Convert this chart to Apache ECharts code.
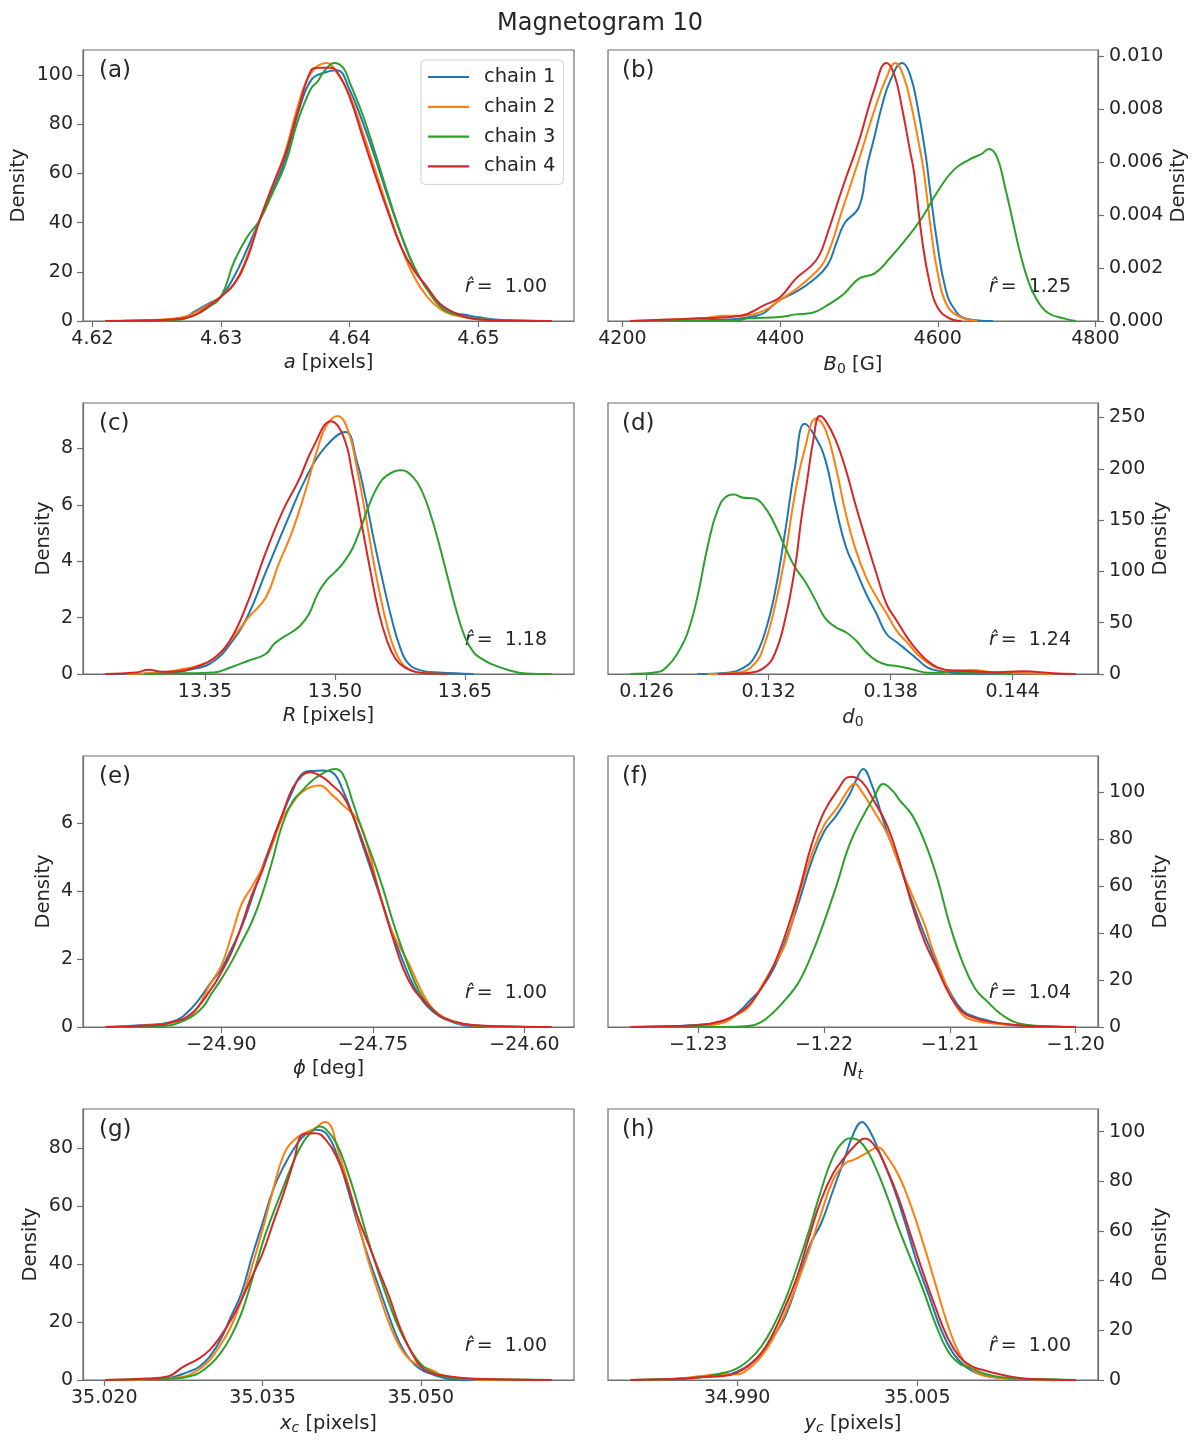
<!DOCTYPE html>
<html>
<head>
<meta charset="utf-8">
<script src="https://cdn.jsdelivr.net/npm/echarts@6/dist/echarts.min.js"></script>
<style>
html, body { margin: 0; padding: 0; background: #fff; }
#chart { width: 1200px; height: 1445px; }
</style>
</head>
<body>
<div id="chart"></div>
<script>
var FONT = "DejaVu Sans";
var TEXT = "#262626";
var FRAME = "#6e6e6e";
var colors = ["#1f77b4", "#ff7f0e", "#2ca02c", "#d62728"];
var chainNames = ["chain 1", "chain 2", "chain 3", "chain 4"];

// (a) a [pixels]
var a1 = [[4.621,0],[4.625,0.3],[4.627,1.2],[4.628,4],[4.629,7],[4.630,10],[4.631,18],[4.632,29],[4.633,41],[4.634,53],[4.635,66],[4.636,85],[4.637,98],[4.638,101],[4.639,102],[4.640,94],[4.641,81],[4.642,66],[4.643,50],[4.644,35],[4.645,22],[4.646,13],[4.647,7],[4.648,3.5],[4.649,2.5],[4.650,1.5],[4.652,0.4],[4.6557,0]];
var a2 = [[4.621,0],[4.625,0.5],[4.627,1.5],[4.628,3.5],[4.629,6.5],[4.630,10],[4.631,15],[4.632,26],[4.633,41],[4.634,55],[4.635,69],[4.636,88],[4.637,101],[4.6382,105],[4.639,101],[4.640,92],[4.641,77],[4.642,61],[4.643,45],[4.644,30],[4.645,18],[4.646,10],[4.647,5],[4.648,2.5],[4.650,0.8],[4.652,0.2],[4.654,0]];
var a3 = [[4.621,0],[4.626,0.2],[4.628,2.5],[4.629,5.5],[4.630,10],[4.631,24],[4.632,34],[4.633,41],[4.634,52],[4.635,64],[4.636,82],[4.637,94.7],[4.6375,97.4],[4.638,101.5],[4.6388,105],[4.6395,103],[4.640,97],[4.641,84],[4.642,68],[4.643,51],[4.644,35],[4.645,22],[4.646,13],[4.647,6],[4.648,3],[4.650,0.8],[4.652,0.2],[4.6557,0]];
var a4 = [[4.621,0],[4.625,0.3],[4.627,1],[4.628,2.5],[4.629,6],[4.630,10],[4.631,15],[4.632,25],[4.633,41],[4.634,55],[4.635,68],[4.636,86],[4.637,102],[4.6375,103],[4.6385,103],[4.639,101.5],[4.640,91],[4.641,75],[4.642,59],[4.643,44],[4.644,30],[4.645,20.6],[4.646,13.9],[4.647,7],[4.648,3.7],[4.649,1.6],[4.650,0.6],[4.652,0.1],[4.6557,0]];
var aXTicks = [4.62, 4.63, 4.64, 4.65];
var aYTicks = [0, 20, 40, 60, 80, 100];

// (b) B0 [G]
var b1 = [[4210,0],[4300,0.00003],[4370,0.0002],[4400,0.0008],[4420,0.0011],[4440,0.0015],[4460,0.0021],[4472,0.0030],[4482,0.0037],[4500,0.0043],[4510,0.0058],[4520,0.0070],[4529,0.0081],[4540,0.0091],[4555,0.00975],[4565,0.0093],[4575,0.0080],[4585,0.0062],[4590,0.0050],[4600,0.0028],[4610,0.0012],[4620,0.0005],[4635,0.0001],[4670,0]];
var b2 = [[4210,0],[4300,0.0001],[4330,0.0002],[4350,0.0002],[4380,0.0004],[4400,0.0008],[4420,0.0012],[4440,0.0017],[4457,0.0023],[4480,0.0043],[4500,0.0061],[4520,0.0080],[4535,0.0092],[4546,0.00975],[4556,0.0093],[4566,0.0082],[4576,0.0067],[4582,0.0057],[4592,0.0033],[4600,0.0018],[4610,0.0007],[4625,0.0002],[4650,0]];
var b3 = [[4210,0],[4340,0],[4360,0.0001],[4400,0.00015],[4420,0.00025],[4440,0.0003],[4460,0.0006],[4480,0.0010],[4500,0.0016],[4520,0.0018],[4540,0.0024],[4560,0.0031],[4580,0.0039],[4600,0.0049],[4620,0.0057],[4640,0.0061],[4655,0.0063],[4665,0.0065],[4675,0.0062],[4685,0.0051],[4695,0.0038],[4705,0.0025],[4715,0.0015],[4725,0.00084],[4740,0.0003],[4760,0.0001],[4775,0]];
var b4 = [[4210,0],[4250,0.00005],[4300,0.0001],[4350,0.0002],[4380,0.0006],[4400,0.0009],[4420,0.0016],[4440,0.0021],[4450,0.0025],[4460,0.0033],[4480,0.0051],[4500,0.0068],[4520,0.0088],[4535,0.00975],[4545,0.0093],[4555,0.0080],[4565,0.0064],[4570,0.0056],[4580,0.0031],[4590,0.0014],[4600,0.0005],[4615,0.0001],[4630,0]];
var bXTicks = [4200, 4400, 4600, 4800];
var bYTicks = [0, 0.002, 0.004, 0.006, 0.008, 0.010];

// (c) R [pixels]
var c1 = [[13.235,0],[13.30,0.03],[13.34,0.2],[13.36,0.45],[13.38,1.1],[13.40,2.1],[13.42,3.6],[13.445,5.45],[13.467,6.98],[13.489,8.05],[13.512,8.58],[13.525,7.57],[13.535,6.27],[13.545,4.73],[13.555,3.31],[13.565,2.0],[13.575,0.95],[13.585,0.36],[13.60,0.12],[13.62,0.05],[13.66,0]];
var c2 = [[13.26,0],[13.30,0.05],[13.32,0.15],[13.34,0.28],[13.36,0.55],[13.38,1.2],[13.40,2.0],[13.42,2.7],[13.435,3.9],[13.45,5.0],[13.465,6.4],[13.48,8.0],[13.49,8.8],[13.5027,9.15],[13.515,8.64],[13.525,7.34],[13.535,5.68],[13.545,3.9],[13.555,2.37],[13.565,1.18],[13.575,0.47],[13.585,0.17],[13.60,0.04],[13.63,0]];
var c3 = [[13.28,0],[13.34,0.03],[13.36,0.05],[13.38,0.24],[13.40,0.47],[13.42,0.71],[13.43,1.07],[13.44,1.3],[13.45,1.48],[13.46,1.72],[13.47,2.13],[13.48,2.84],[13.49,3.31],[13.50,3.61],[13.51,3.96],[13.52,4.44],[13.53,5.2],[13.54,6.04],[13.55,6.69],[13.56,7.04],[13.5766,7.22],[13.59,6.98],[13.60,6.5],[13.61,5.68],[13.62,4.62],[13.63,3.43],[13.64,2.25],[13.65,1.3],[13.66,0.77],[13.67,0.53],[13.68,0.36],[13.70,0.14],[13.72,0.02],[13.75,0]];
var c4 = [[13.235,0],[13.27,0.05],[13.285,0.15],[13.30,0.08],[13.32,0.1],[13.34,0.25],[13.36,0.55],[13.38,1.25],[13.40,2.6],[13.42,4.3],[13.44,5.8],[13.458,6.86],[13.475,8.05],[13.4956,8.96],[13.51,8.4],[13.52,7.1],[13.53,5.44],[13.54,3.79],[13.55,2.25],[13.56,1.18],[13.57,0.53],[13.58,0.24],[13.60,0.04],[13.63,0]];
var cXTicks = [13.35, 13.50, 13.65];
var cYTicks = [0, 2, 4, 6, 8];

// (d) d0
var d1 = [[0.1285,0],[0.1300,1.3],[0.1308,6.5],[0.1313,16],[0.1318,39],[0.1323,78],[0.1328,137],[0.1333,202],[0.13378,244],[0.1343,231],[0.1348,208],[0.1353,163],[0.1358,124],[0.1363,101],[0.1368,78],[0.1373,59],[0.1378,39],[0.1383,31],[0.1388,23],[0.1393,14.6],[0.1398,6.5],[0.1403,3.3],[0.141,1.3],[0.142,0.7],[0.1435,0]];
var d2 = [[0.1290,0],[0.1305,1.3],[0.1313,9.8],[0.1318,29],[0.1323,65],[0.1328,114],[0.1333,176],[0.1338,221],[0.13434,249],[0.1348,238],[0.1353,202],[0.1358,156],[0.1363,120],[0.1368,94],[0.1373,75],[0.1378,59],[0.1383,42],[0.1388,31],[0.1393,19.5],[0.1398,11.4],[0.1403,5.9],[0.141,3.3],[0.142,3.9],[0.143,2],[0.1445,1],[0.146,0]];
var d3 = [[0.1252,0],[0.1265,1.6],[0.1270,7],[0.1275,19.5],[0.1280,39],[0.1285,75],[0.1290,124],[0.1295,160],[0.1300,174],[0.1303,175],[0.1307,172],[0.1313,171],[0.1318,163],[0.1323,146],[0.1328,124],[0.1333,104],[0.1338,90],[0.1343,72],[0.1348,54],[0.1353,45.6],[0.1358,40.7],[0.1363,32.6],[0.1368,21],[0.1373,13],[0.1378,9.1],[0.1383,7.8],[0.1388,5.9],[0.1393,3.3],[0.1398,1.3],[0.1405,1.3],[0.141,2.6],[0.142,1.5],[0.143,0.5],[0.144,0]];
var d4 = [[0.1295,0],[0.131,1],[0.1318,6.5],[0.1323,19.5],[0.1328,52],[0.1333,104],[0.1336,150],[0.1339,189],[0.1342,228],[0.13451,251.6],[0.1348,247],[0.1353,228],[0.1358,199],[0.1363,163],[0.1368,130],[0.1373,98],[0.1378,68],[0.1383,52],[0.1388,36],[0.1393,23],[0.1398,13],[0.1403,6.5],[0.141,3.3],[0.142,2.6],[0.143,1.6],[0.1445,2.6],[0.146,0.7],[0.1471,0]];
var dXTicks = [0.126, 0.132, 0.138, 0.144];
var dYTicks = [0, 50, 100, 150, 200, 250];

// (e) phi [deg]
var e1 = [[-25.015,0],[-24.98,0.05],[-24.95,0.15],[-24.93,0.54],[-24.91,1.33],[-24.90,1.72],[-24.89,2.31],[-24.88,2.95],[-24.87,3.78],[-24.86,4.67],[-24.85,5.45],[-24.84,6.24],[-24.83,6.93],[-24.82,7.47],[-24.81,7.55],[-24.80,7.56],[-24.79,7.5],[-24.78,7.0],[-24.77,6.24],[-24.76,5.35],[-24.75,4.47],[-24.74,3.59],[-24.73,2.7],[-24.72,1.92],[-24.71,1.23],[-24.70,0.74],[-24.69,0.44],[-24.68,0.25],[-24.66,0.05],[-24.64,0]];
var e2 = [[-25.015,0],[-24.97,0.05],[-24.95,0.12],[-24.93,0.34],[-24.91,1.33],[-24.90,1.82],[-24.89,2.7],[-24.88,3.63],[-24.87,4.13],[-24.86,4.67],[-24.85,5.35],[-24.84,6.14],[-24.83,6.58],[-24.82,6.93],[-24.803,7.12],[-24.79,6.83],[-24.78,6.55],[-24.765,6.1],[-24.755,5.3],[-24.745,4.1],[-24.735,3.1],[-24.725,2.45],[-24.715,1.9],[-24.705,1.25],[-24.695,0.7],[-24.685,0.38],[-24.67,0.15],[-24.65,0.04],[-24.60,0]];
var e3 = [[-25.0,0],[-24.96,0.03],[-24.94,0.15],[-24.92,0.54],[-24.91,0.98],[-24.90,1.42],[-24.89,1.92],[-24.88,2.5],[-24.87,3.09],[-24.86,3.88],[-24.85,4.86],[-24.84,5.94],[-24.83,6.63],[-24.82,6.97],[-24.81,7.27],[-24.80,7.47],[-24.788,7.61],[-24.78,7.47],[-24.77,6.63],[-24.76,5.75],[-24.75,4.96],[-24.74,4.08],[-24.73,3.09],[-24.72,2.21],[-24.71,1.42],[-24.70,0.83],[-24.69,0.49],[-24.68,0.27],[-24.66,0.09],[-24.63,0.02],[-24.60,0]];
var e4 = [[-25.015,0],[-24.97,0.05],[-24.95,0.13],[-24.93,0.39],[-24.91,1.13],[-24.90,1.62],[-24.89,2.21],[-24.88,3.0],[-24.87,3.88],[-24.86,4.57],[-24.85,5.45],[-24.84,6.24],[-24.83,7.02],[-24.82,7.42],[-24.8128,7.51],[-24.80,7.37],[-24.79,7.12],[-24.78,6.83],[-24.77,6.24],[-24.76,5.45],[-24.75,4.57],[-24.74,3.59],[-24.73,2.6],[-24.72,1.72],[-24.71,1.13],[-24.70,0.79],[-24.69,0.49],[-24.68,0.27],[-24.66,0.09],[-24.64,0.04],[-24.573,0]];
var eXTicks = [-24.90, -24.75, -24.60];
var eYTicks = [0, 2, 4, 6];

// (f) Nt
var f1 = [[-1.2354,0],[-1.232,0.3],[-1.230,1],[-1.228,2.1],[-1.2265,7.8],[-1.226,10.7],[-1.225,16.4],[-1.224,24.9],[-1.223,37.7],[-1.222,53.3],[-1.221,70.4],[-1.220,83.2],[-1.219,90.3],[-1.218,98.9],[-1.2175,104.6],[-1.21688,110],[-1.2163,104.6],[-1.2155,91.7],[-1.215,83.2],[-1.214,69],[-1.213,53.3],[-1.212,39.1],[-1.211,26.3],[-1.210,14.9],[-1.209,7.1],[-1.208,4.3],[-1.207,2.8],[-1.206,1.4],[-1.204,0.4],[-1.2015,0]];
var f2 = [[-1.2354,0],[-1.230,0.5],[-1.228,1.8],[-1.227,5],[-1.226,8.5],[-1.225,17],[-1.224,26.3],[-1.223,36.3],[-1.222,56.2],[-1.221,73.3],[-1.220,86],[-1.219,93.2],[-1.218,101.7],[-1.2176,103.8],[-1.217,100.3],[-1.216,91.7],[-1.215,82.5],[-1.214,69],[-1.213,56.2],[-1.212,43.4],[-1.2115,34.9],[-1.211,27.7],[-1.210,14.2],[-1.209,5.3],[-1.208,2.7],[-1.206,1.3],[-1.203,0.3],[-1.200,0]];
var f3 = [[-1.2354,0],[-1.228,0],[-1.226,0.4],[-1.225,2.1],[-1.224,6.4],[-1.223,12.1],[-1.222,19.2],[-1.221,30.6],[-1.220,44.8],[-1.219,60.5],[-1.218,77.5],[-1.217,88.9],[-1.216,98.2],[-1.2153,103.6],[-1.2145,100.3],[-1.214,96.7],[-1.213,90.3],[-1.212,78.9],[-1.211,63.3],[-1.210,43.4],[-1.209,27.7],[-1.208,16.4],[-1.207,10.7],[-1.206,5.7],[-1.205,2.4],[-1.204,1],[-1.202,0.2],[-1.200,0]];
var f4 = [[-1.2354,0],[-1.232,0.4],[-1.230,0.7],[-1.228,2.8],[-1.227,5.3],[-1.226,9.2],[-1.225,16.4],[-1.224,26.3],[-1.223,40.5],[-1.222,57.6],[-1.221,77.5],[-1.220,91.7],[-1.219,100.3],[-1.2179,106.7],[-1.217,104.6],[-1.216,96],[-1.215,86],[-1.214,70.4],[-1.213,51.9],[-1.212,36.3],[-1.211,24.9],[-1.210,13.5],[-1.209,6.4],[-1.208,3.8],[-1.207,2.4],[-1.205,1],[-1.203,0.3],[-1.200,0]];
var fXTicks = [-1.23, -1.22, -1.21, -1.20];
var fYTicks = [0, 20, 40, 60, 80, 100];

// (g) xc [pixels]
var g1 = [[35.0201,0],[35.024,0.2],[35.026,0.6],[35.028,2.9],[35.029,4.6],[35.030,8.1],[35.031,13.8],[35.032,21.9],[35.033,30],[35.034,42.7],[35.035,54.2],[35.036,65.7],[35.037,73.8],[35.038,80.1],[35.039,84.7],[35.0401,86.5],[35.041,85.3],[35.042,78.4],[35.043,66.9],[35.044,54.2],[35.045,42.7],[35.046,32.3],[35.047,21.9],[35.048,12.7],[35.049,6.9],[35.050,3.7],[35.051,2.1],[35.052,0.9],[35.053,0.2],[35.055,0]];
var g2 = [[35.0201,0],[35.025,0.3],[35.027,0.9],[35.028,1.7],[35.029,3.7],[35.030,6.9],[35.031,12.1],[35.032,18.4],[35.033,27.7],[35.034,39.2],[35.035,51.9],[35.036,65.7],[35.037,77.8],[35.038,83],[35.039,85.3],[35.040,87],[35.0409,89.2],[35.0415,87.6],[35.042,81.3],[35.043,69.2],[35.044,55.3],[35.045,41.5],[35.046,30],[35.047,19.6],[35.048,11.5],[35.049,6.9],[35.050,4.8],[35.051,3.5],[35.052,1.7],[35.054,0.5],[35.056,0.1],[35.060,0]];
var g3 = [[35.0201,0],[35.024,0.3],[35.027,0.6],[35.028,1.2],[35.029,2.5],[35.030,5.2],[35.031,9.2],[35.032,15],[35.033,23.1],[35.034,34.6],[35.035,47.3],[35.036,57.6],[35.037,66.9],[35.038,76.1],[35.039,83],[35.040,87],[35.04045,87.6],[35.041,86.7],[35.042,81.8],[35.043,72.6],[35.044,61.1],[35.045,48.4],[35.046,36.9],[35.047,26.5],[35.048,17.3],[35.049,10.4],[35.050,5.5],[35.051,2.9],[35.052,1.4],[35.054,0.4],[35.058,0.2],[35.0624,0]];
var g4 = [[35.0201,0],[35.024,0.5],[35.026,1.2],[35.0275,4.6],[35.029,7.5],[35.030,10.4],[35.031,15],[35.032,20.7],[35.033,27.7],[35.034,35.7],[35.035,43.8],[35.036,54.2],[35.037,64.6],[35.038,76.1],[35.0385,83.6],[35.039,85.1],[35.040,85.3],[35.041,83],[35.042,77.2],[35.043,68],[35.044,56.5],[35.045,47.3],[35.046,38],[35.047,28.8],[35.048,18.4],[35.049,10.4],[35.050,4.6],[35.051,2.3],[35.052,1.6],[35.054,0.7],[35.057,0.3],[35.0624,0]];
var gXTicks = [35.020, 35.035, 35.050];
var gYTicks = [0, 20, 40, 60, 80];

// (h) yc [pixels]
var h1 = [[34.9811,0],[34.985,0.5],[34.987,1.3],[34.989,2],[34.990,3.4],[34.991,6],[34.992,10.7],[34.993,17.4],[34.994,25.5],[34.995,38.9],[34.996,53.7],[34.997,63.1],[34.998,76.5],[34.999,89.9],[34.9997,99.3],[35.0004,103.9],[35.001,100.7],[35.002,89.9],[35.003,77.9],[35.004,63.1],[35.005,47],[35.006,33.6],[35.007,20.1],[35.008,10.7],[35.009,5.4],[35.010,2.7],[35.011,1.3],[35.013,0.5],[35.016,0.1],[35.0182,0]];
var h2 = [[34.9811,0],[34.985,0.5],[34.987,1.6],[34.9885,2.3],[34.990,2.3],[34.991,4.7],[34.992,9.4],[34.993,16.8],[34.994,26.8],[34.995,38.9],[34.996,52.3],[34.997,67.1],[34.998,80.5],[34.999,87.2],[34.9997,88.6],[35.0005,90.6],[35.0012,92.6],[35.0017,93.7],[35.0025,89.9],[35.0035,81.9],[35.0045,69.8],[35.0055,55],[35.0065,38.9],[35.0075,22.8],[35.0085,10.7],[35.0095,4.3],[35.0105,1.9],[35.012,0.8],[35.015,0.2],[35.0182,0]];
var h3 = [[34.9811,0],[34.985,0.4],[34.987,1.1],[34.989,3],[34.990,4.7],[34.991,8.1],[34.992,13.4],[34.993,21.5],[34.994,32.2],[34.995,45.6],[34.996,60.4],[34.997,76.5],[34.998,89.9],[34.999,96.6],[34.9995,97.3],[35.0005,94.6],[35.0015,85.9],[35.0025,73.8],[35.0035,60.4],[35.0045,48.3],[35.0055,36.2],[35.0065,22.8],[35.0075,12.1],[35.0085,6.7],[35.0095,4.7],[35.0105,2.7],[35.012,1.1],[35.015,0.4],[35.0182,0]];
var h4 = [[34.9811,0],[34.985,0.5],[34.987,1.1],[34.989,1.7],[34.990,3],[34.991,6],[34.992,10.7],[34.993,18.8],[34.994,29.5],[34.995,41.6],[34.996,57.7],[34.997,72.5],[34.998,83.2],[34.999,89.9],[35.000,95.3],[35.0006,97.2],[35.0015,94],[35.0025,84.6],[35.0035,72.5],[35.0045,57.7],[35.0055,43],[35.0065,29.5],[35.0075,17.4],[35.0085,9.4],[35.0095,5.6],[35.0105,4],[35.0115,2.7],[35.0125,1.6],[35.014,0.5],[35.0182,0]];
var hXTicks = [34.990, 35.005];
var hYTicks = [0, 20, 40, 60, 80, 100];

var panels = [
    { tag: "(a)", chains: [a1, a2, a3, a4], xTicks: aXTicks, yTicks: aYTicks, xDec: 2, yDec: 0, xName: "{i|a} [pixels]", rhat: "1.00", yGap: 54 },
    { tag: "(b)", chains: [b1, b2, b3, b4], xTicks: bXTicks, yTicks: bYTicks, xDec: 0, yDec: 3, xName: "{i|B}{s|0} [G]", rhat: "1.25", yGap: 71 },
    { tag: "(c)", chains: [c1, c2, c3, c4], xTicks: cXTicks, yTicks: cYTicks, xDec: 2, yDec: 0, xName: "{i|R} [pixels]", rhat: "1.18", yGap: 29 },
    { tag: "(d)", chains: [d1, d2, d3, d4], xTicks: dXTicks, yTicks: dYTicks, xDec: 3, yDec: 0, xName: "{i|d}{s|0}", rhat: "1.24", yGap: 53 },
    { tag: "(e)", chains: [e1, e2, e3, e4], xTicks: eXTicks, yTicks: eYTicks, xDec: 2, yDec: 0, xName: "{i|\u03d5} [deg]", rhat: "1.00", yGap: 29 },
    { tag: "(f)", chains: [f1, f2, f3, f4], xTicks: fXTicks, yTicks: fYTicks, xDec: 2, yDec: 0, xName: "{i|N}{si|t}", rhat: "1.04", yGap: 53 },
    { tag: "(g)", chains: [g1, g2, g3, g4], xTicks: gXTicks, yTicks: gYTicks, xDec: 3, yDec: 0, xName: "{i|x}{si|c} [pixels]", rhat: "1.00", yGap: 42 },
    { tag: "(h)", chains: [h1, h2, h3, h4], xTicks: hXTicks, yTicks: hYTicks, xDec: 3, yDec: 0, xName: "{i|y}{si|c} [pixels]", rhat: "1.00", yGap: 53 }
];

var gridLeft = [83, 608];
var gridWidth = [491, 490];
var gridTop = [50, 403, 756, 1109];
var gridHeight = 271;

var TICK_SIZE = 19;
var LABEL_SIZE = 19.5;

function fmt(v, dec) {
    return v.toFixed(dec).replace("-", "\u2212");
}

// min / max of one coordinate over all chains of a panel
function extent(chains, k) {
    var lo = Infinity, hi = -Infinity;
    chains.forEach(function(c) {
        c.forEach(function(p) {
            lo = Math.min(lo, p[k]);
            hi = Math.max(hi, p[k]);
        });
    });
    return [lo, hi];
}

var nameRich = {
    i: { fontStyle: "italic", fontSize: LABEL_SIZE, fontFamily: FONT, color: TEXT },
    s: { fontSize: 14, fontFamily: FONT, color: TEXT, padding: [9, 0, 0, 0] },
    si: { fontSize: 14, fontStyle: "italic", fontFamily: FONT, color: TEXT, padding: [9, 0, 0, 0] }
};

var grids = [], xAxes = [], yAxes = [], series = [], graphics = [];

panels.forEach(function(p, i) {
    var col = i % 2, row = Math.floor(i / 2);
    var gl = gridLeft[col], gw = gridWidth[col], gt = gridTop[row];
    var right = col === 1;

    // matplotlib style limits: 5% margin in x, 0 .. 1.05*max in y
    var xr = extent(p.chains, 0);
    var pad = 0.05 * (xr[1] - xr[0]);
    var yMax = extent(p.chains, 1)[1] * 1.05;

    grids.push({
        left: gl, top: gt, width: gw, height: gridHeight,
        show: true, borderColor: FRAME, borderWidth: 1.2, backgroundColor: "transparent"
    });

    xAxes.push({
        type: "value", gridIndex: i, min: xr[0] - pad, max: xr[1] + pad,
        axisLine: { show: true, lineStyle: { color: FRAME, width: 1.2 } },
        axisTick: { show: true, length: 6, customValues: p.xTicks, lineStyle: { color: FRAME, width: 1.2 } },
        axisLabel: {
            customValues: p.xTicks, margin: 9, fontSize: TICK_SIZE, color: TEXT, fontFamily: FONT,
            formatter: function(v) { return fmt(v, p.xDec); }
        },
        splitLine: { show: false },
        name: p.xName, nameLocation: "middle", nameGap: 32,
        nameTextStyle: { fontSize: LABEL_SIZE, color: TEXT, fontFamily: FONT, rich: nameRich }
    });

    yAxes.push({
        type: "value", gridIndex: i, min: 0, max: yMax, position: right ? "right" : "left",
        axisLine: { show: true, lineStyle: { color: FRAME, width: 1.2 } },
        axisTick: { show: true, length: 6, customValues: p.yTicks, lineStyle: { color: FRAME, width: 1.2 } },
        axisLabel: {
            customValues: p.yTicks, margin: right ? 11 : 10, fontSize: TICK_SIZE, color: TEXT, fontFamily: FONT,
            formatter: function(v) { return fmt(v, p.yDec); }
        },
        splitLine: { show: false },
        name: "Density", nameLocation: "middle", nameGap: p.yGap, nameRotate: 90,
        nameTextStyle: { fontSize: LABEL_SIZE, color: TEXT, fontFamily: FONT }
    });

    p.chains.forEach(function(chain, j) {
        series.push({
            type: "line", name: chainNames[j], xAxisIndex: i, yAxisIndex: i,
            data: chain, smooth: 0.45,
            showSymbol: false, symbol: "none",
            lineStyle: { width: 2, color: colors[j] },
            itemStyle: { color: colors[j] },
            z: 2 + j
        });
    });

    graphics.push({
        type: "text", x: gl + (right ? 14 : 16), y: gt + 10,
        style: { text: p.tag, fontSize: 23, fontFamily: FONT, fill: TEXT }
    });
    graphics.push({
        type: "text", x: gl + gw - 27, y: gt + gridHeight - 34,
        style: {
            text: "{i|r\u0302}\u2009=  " + p.rhat,
            align: "right", verticalAlign: "middle",
            fontSize: TICK_SIZE, fontFamily: FONT, fill: TEXT,
            rich: { i: { fontStyle: "italic", fontSize: TICK_SIZE, fontFamily: FONT, fill: TEXT } }
        }
    });
});

var chart = echarts.init(document.getElementById("chart"));
chart.setOption({
    animation: false,
    backgroundColor: "#fff",
    title: {
        text: "Magnetogram 10", left: "center", top: 7,
        textStyle: { fontSize: 24, fontWeight: "normal", color: TEXT, fontFamily: FONT }
    },
    legend: {
        data: chainNames, orient: "vertical", left: 421, top: 60,
        icon: "rect", itemWidth: 41, itemHeight: 2.2, itemGap: 9.8,
        padding: [7, 8, 8, 7],
        backgroundColor: "rgba(255,255,255,0.8)", borderColor: "#d0d0d0", borderWidth: 1, borderRadius: 4,
        textStyle: { fontSize: LABEL_SIZE, color: TEXT, fontFamily: FONT, lineHeight: 19.5, padding: [0, 0, 0, 10] }
    },
    grid: grids,
    xAxis: xAxes,
    yAxis: yAxes,
    series: series,
    graphic: graphics
});
</script>
</body>
</html>
